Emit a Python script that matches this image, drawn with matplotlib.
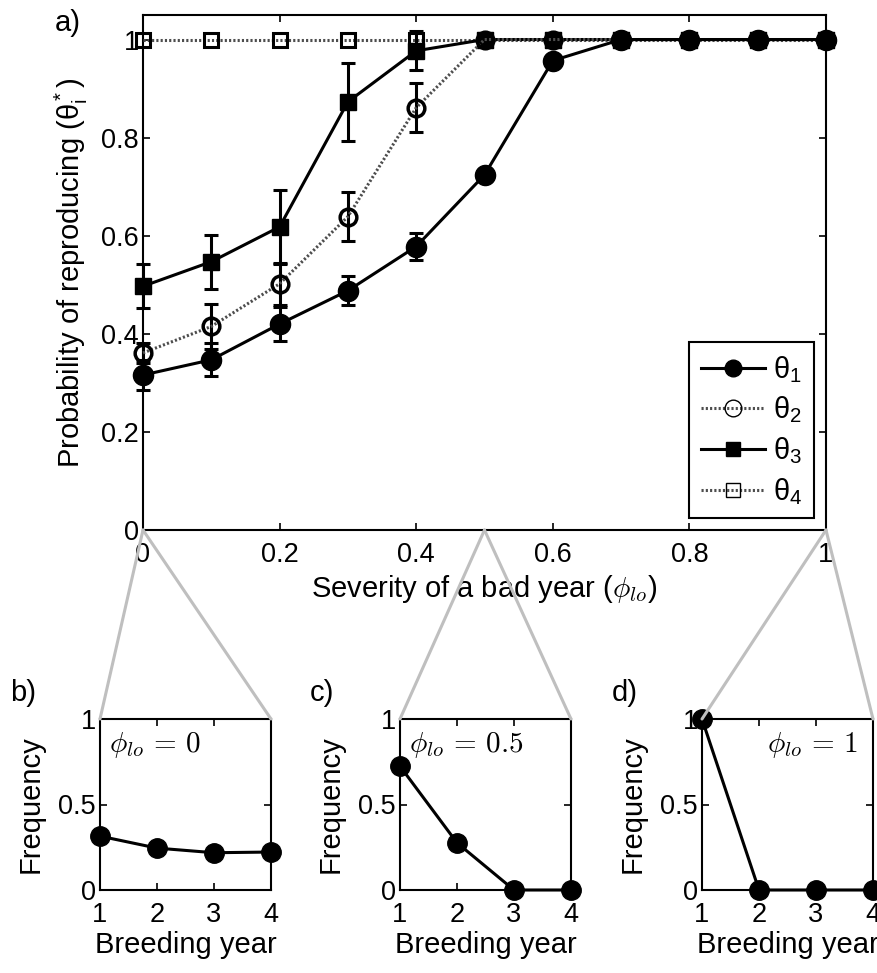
import matplotlib
matplotlib.use('Agg')
import matplotlib.pyplot as plt
from matplotlib.lines import Line2D
from matplotlib.patches import ConnectionPatch
import numpy as np

plt.rcParams['font.family'] = ['Liberation Sans', 'DejaVu Sans']
plt.rcParams['mathtext.fontset'] = 'custom'
plt.rcParams['mathtext.rm'] = 'Liberation Sans'
plt.rcParams['mathtext.it'] = 'Liberation Sans:italic'

# severity of a bad year
phi = [0.0, 0.1, 0.2, 0.3, 0.4, 0.5, 0.6, 0.7, 0.8, 0.9, 1.0]

theta1 = [0.316, 0.347, 0.420, 0.488, 0.578, 0.724, 0.957, 1.0, 1.0, 1.0, 1.0]
theta1_err = [0.030, 0.034, 0.035, 0.030, 0.027, 0, 0, 0, 0, 0, 0]
theta2 = [0.361, 0.415, 0.502, 0.639, 0.861, 1.0, 1.0, 1.0, 1.0, 1.0, 1.0]
theta2_err = [0.020, 0.045, 0.043, 0.050, 0.050, 0, 0, 0, 0, 0, 0]
theta3 = [0.497, 0.547, 0.618, 0.873, 0.977, 1.0, 1.0, 1.0, 1.0, 1.0, 1.0]
theta3_err = [0.045, 0.055, 0.075, 0.080, 0.040, 0, 0, 0, 0, 0, 0]
theta4 = [1.0, 1.0, 1.0, 1.0, 1.0, 1.0, 1.0, 1.0, 1.0, 1.0, 1.0]

years = [1, 2, 3, 4]
freq_phi0 = [0.315, 0.245, 0.218, 0.222]
freq_phi05 = [0.724, 0.276, 0.0, 0.0]
freq_phi1 = [1.0, 0.0, 0.0, 0.0]

main_ticks = [0, 0.2, 0.4, 0.6, 0.8, 1.0]
main_ticklabels = ['0', '0.2', '0.4', '0.6', '0.8', '1']

FS = 21
TS = 19.5

W, H = 877, 973
fig = plt.figure(figsize=(W / 100, H / 100), dpi=100)


def px_axes(l, t, r, b):
    return fig.add_axes([l / W, 1 - b / H, (r - l) / W, (b - t) / H])


def style_box(a):
    for s in a.spines.values():
        s.set_linewidth(1.5)
    a.tick_params(direction='in', length=5, width=1.2, top=True, right=True,
                  labelsize=TS, pad=3)
    a.tick_params(axis='x', pad=9)


ax = px_axes(143, 15, 826, 530)
style_box(ax)

lw = 2.2
dot = (0, (0.7, 0.7))
dotc = '0.3'


def draw(y, err, ls, lc, marker, ms, mfc, mew, z):
    y = np.array(y)
    ax.plot(phi, y, color=lc, ls=ls, lw=lw, marker=marker, ms=ms, mfc=mfc,
            mec='k', mew=mew, clip_on=False, zorder=z)
    if err is not None:
        err = np.array(err)
        m = err > 0
        ax.errorbar(np.array(phi)[m], y[m], yerr=err[m], fmt='none', ecolor='k',
                    elinewidth=2.2, capsize=4.7, capthick=2.2, clip_on=False,
                    zorder=z - 0.5)


draw(theta4, None, dot, dotc, 's', 10, 'none', 2.2, 3)
draw(theta3, theta3_err, '-', 'k', 's', 11, 'k', 1, 4)
draw(theta2, theta2_err, dot, dotc, 'o', 12, 'none', 2.5, 5)
draw(theta1, theta1_err, '-', 'k', 'o', 14.5, 'k', 1, 6)

ax.set_xlim(0, 1)
ax.set_ylim(0, 1.05)
ax.set_xticks(main_ticks)
ax.set_xticklabels(main_ticklabels)
ax.set_yticks(main_ticks)
ax.set_yticklabels(main_ticklabels)
ax.set_xlabel(r'Severity of a bad year ($\phi_{lo}$)', fontsize=FS,
              math_fontfamily='cm', labelpad=3)
ax.set_ylabel(r'Probability of reproducing (θ$_\mathrm{i}^*$)', fontsize=FS,
              labelpad=8)

handles = [
    Line2D([], [], color='k', lw=lw, marker='o', ms=12, mfc='k', mec='k'),
    Line2D([], [], color=dotc, lw=lw, ls=dot, marker='o', ms=12, mfc='none',
           mec='k', mew=1),
    Line2D([], [], color='k', lw=lw, marker='s', ms=10, mfc='k', mec='k'),
    Line2D([], [], color=dotc, lw=lw, ls=dot, marker='s', ms=10, mfc='none',
           mec='k', mew=1),
]
labels = ['θ$_1$', 'θ$_2$', 'θ$_3$', 'θ$_4$']
leg = ax.legend(handles, labels, loc='lower right', fontsize=FS,
                handlelength=2.2, fancybox=False, edgecolor='k', framealpha=1,
                borderaxespad=0.4, labelspacing=0.34, handletextpad=0.3,
                borderpad=0.4)
leg.get_frame().set_linewidth(1.5)

fig.text(55 / W, 1 - 9 / H, 'a)', fontsize=FS, ha='left', va='top')

small = [
    (100, freq_phi0, r'$\phi_{lo}\,=\,0$', 'left', 'b)', 0.0),
    (400, freq_phi05, r'$\phi_{lo}\,=\,0.5$', 'left', 'c)', 0.5),
    (702, freq_phi1, r'$\phi_{lo}\,=\,1$', 'right', 'd)', 1.0),
]
for left, freq, txt, ha, lab, src in small:
    a = px_axes(left, 719, left + 171, 890)
    style_box(a)
    a.plot(years, freq, color='k', lw=lw, marker='o', ms=14, mfc='k',
           mec='k', clip_on=False, zorder=5)
    a.set_xlim(1, 4)
    a.set_ylim(0, 1)
    a.set_xticks(years)
    a.set_yticks([0, 0.5, 1])
    a.set_yticklabels(['0', '0.5', '1'])
    a.set_xlabel('Breeding year', fontsize=FS, labelpad=2)
    a.set_ylabel('Frequency', fontsize=FS, labelpad=10)
    tx = 0.05 if ha == 'left' else 0.91
    a.text(tx, 0.85, txt, transform=a.transAxes, fontsize=FS, ha=ha,
           va='center', math_fontfamily='cm')
    fig.text((left - 90) / W, 1 - 679 / H, lab, fontsize=FS, ha='left',
             va='top')
    for corner in (0, 1):
        con = ConnectionPatch(xyA=(src, 0), coordsA=ax.transData,
                              xyB=(corner, 1), coordsB=a.transAxes,
                              color='0.75', lw=2.2, zorder=10)
        fig.add_artist(con)

fig.savefig('out.png', dpi=100)
